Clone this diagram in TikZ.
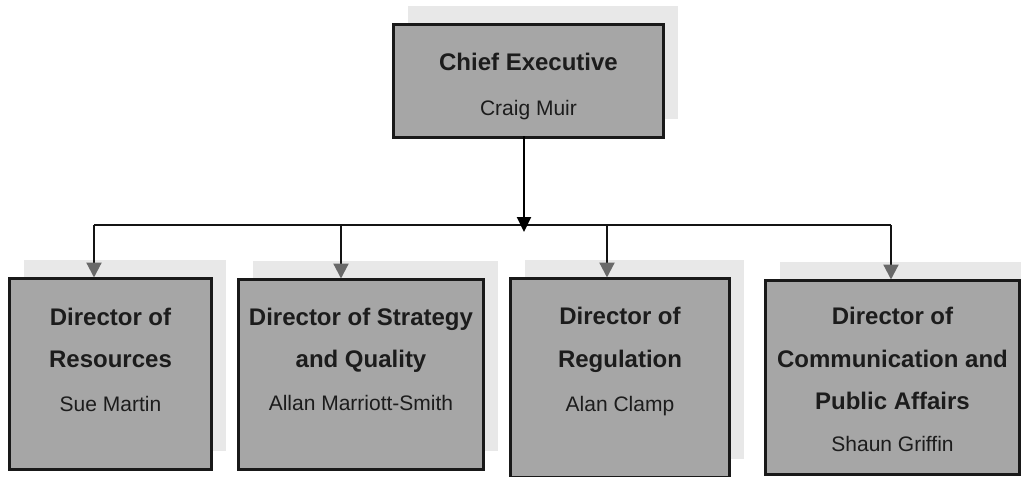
\documentclass[tikz,border=0pt]{standalone}
\usepackage{fontspec}
\setmainfont{Liberation Sans}
\usetikzlibrary{arrows.meta,positioning,calc}
\definecolor{boxfill}{RGB}{166,166,166}
\definecolor{shadowgray}{RGB}{232,232,232}
\definecolor{txt}{RGB}{28,28,28}
\definecolor{tipgray}{RGB}{105,105,105}
\tikzset{
  box/.style={draw=black!90, line width=3pt, fill=boxfill, anchor=north west, inner sep=0pt},
  shadowbox/.style={fill=shadowgray, draw=none},
  ttl/.style={anchor=base, font=\fontsize{24}{24}\selectfont\bfseries, text=txt, inner sep=0pt},
  nm/.style={anchor=base, font=\fontsize{21}{21}\selectfont, text=txt, inner sep=0pt},
  conn/.style={draw=black!92, line width=2.2pt},
  drop/.style={conn, shorten >=-0.5pt},
}
\newcommand{\mkbox}[5]{% name, x1, y1, x2, y2
  \path[shadowbox] (#2+16,#3-17) rectangle (#4+16,#5-17);
  \node[box, minimum width=#4-#2, minimum height=#5-#3] (#1) at (#2,#3) {};
}
\begin{document}
\begin{tikzpicture}[x=1pt,y=-1pt]
\useasboundingbox (0,0) rectangle (1021,477);
% boxes
\mkbox{ce}{392}{23}{662}{136}
\mkbox{b1}{8}{277}{210}{468}
\mkbox{b2}{237}{278}{482}{468}
\mkbox{b3}{509}{277}{728}{476}
\mkbox{b4}{764}{279}{1018}{473}
% texts
\node[ttl] (ce1) at (ce.north |- 0,70) {Chief Executive};
\node[nm]  (ce2) at (ce.north |- 0,115) {Craig Muir};
\node[ttl] (t11) at (b1.north |- 0,325) {Director of};
\node[ttl] (t12) at (b1.north |- 0,367) {Resources};
\node[nm]  (t13) at (b1.north |- 0,411) {Sue Martin};
\node[ttl] (t21) at (b2.north |- 0,325) {Director of Strategy};
\node[ttl] (t22) at (b2.north |- 0,367) {and Quality};
\node[nm]  (t23) at (b2.north |- 0,410) {Allan Marriott-Smith};
\node[ttl] (t31) at (b3.north |- 0,324) {Director of};
\node[ttl] (t32) at (b3.north |- 0,367) {Regulation};
\node[nm]  (t33) at (b3.north |- 0,411) {Alan Clamp};
\node[ttl] (t41) at (b4.north |- 0,324) {Director of};
\node[ttl] (t42) at (b4.north |- 0,367) {Communication and};
\node[ttl] (t43) at (b4.north |- 0,409) {Public Affairs};
\node[nm]  (t44) at (b4.north |- 0,451) {Shaun Griffin};
% connectors
\coordinate (top) at (524,136);
\coordinate (jn) at (524,232);
\coordinate (d1) at (94,225);
\coordinate (d2) at (341,225);
\coordinate (d3) at (607,225);
\coordinate (d4) at (891,225);
\draw[conn] (d1) -- (d4);
\draw[conn, -{Triangle[width=14pt,length=15pt]}, black] (top) -- (jn);
\foreach \i in {1,...,4}{
  \draw[drop, -{Triangle[width=15pt,length=15pt,fill=tipgray,color=tipgray]}] (d\i) -- (d\i |- b\i.north);
}
\end{tikzpicture}
\end{document}
